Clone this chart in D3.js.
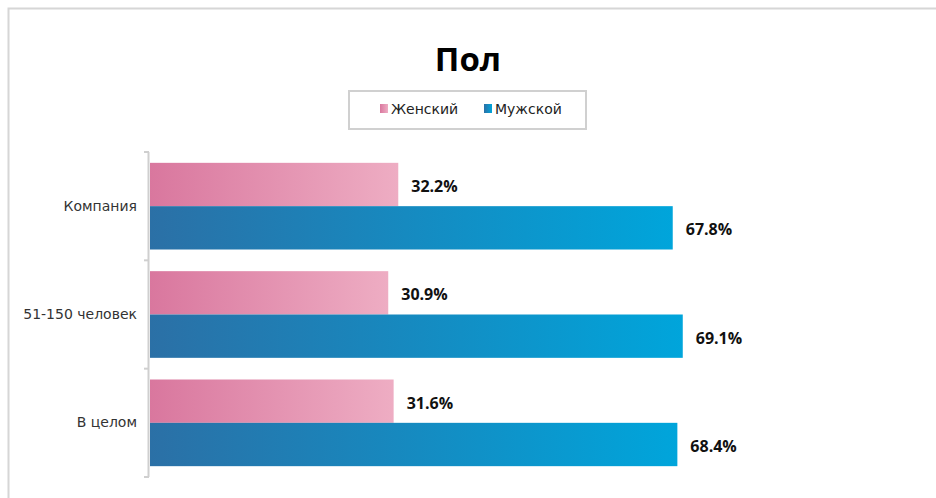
<!DOCTYPE html>
<html><head><meta charset="utf-8">
<script src="https://cdn.jsdelivr.net/npm/d3@7"></script>
<style>body{margin:0;background:#fff}svg{display:block}</style>
</head><body><svg id="c" width="936" height="498"></svg>
<script>
const title = "Пол";
const categories = ["Компания", "51-150 человек", "В целом"];
const seriesNames = ["Женский", "Мужской"];
const female = [32.2, 30.9, 31.6];
const male = [67.8, 69.1, 68.4];

const svg = d3.select("#c");
const font = "'DejaVu Sans', sans-serif";
const boldFont = "'Open Sans', 'DejaVu Sans', sans-serif";

// outer frame
svg.append("path").attr("d","M8.5,498 V8.5 H936").attr("fill","none").attr("stroke","#d6d6d6").attr("stroke-width",2);

const defs = svg.append("defs");
const grads = [["gF","#d9779e","#eeadc3"],["gM","#2b70a6","#00a5db"]];
grads.forEach(([id,a,b])=>{
  const g = defs.append("linearGradient").attr("id",id).attr("x1","0").attr("x2","1").attr("y1","0").attr("y2","0");
  g.append("stop").attr("offset","0").attr("stop-color",a);
  g.append("stop").attr("offset","1").attr("stop-color",b);
});

svg.append("text").attr("x",468).attr("y",71).attr("text-anchor","middle")
  .attr("font-family",boldFont).attr("font-weight","bold").attr("font-size",33).attr("fill","#000").text(title);

// legend
svg.append("rect").attr("x",349).attr("y",91).attr("width",237).attr("height",38)
  .attr("fill","#fff").attr("stroke","#d0d0d0").attr("stroke-width",2);
const legX = [380, 484];
seriesNames.forEach((n,i)=>{
  svg.append("rect").attr("x",legX[i]).attr("y",104).attr("width",8).attr("height",9).attr("fill",`url(#${grads[i][0]})`);
  svg.append("text").attr("x",legX[i]+11).attr("y",114).attr("font-family",font).attr("font-size",14).attr("fill","#222").text(n);
});

const x = d3.scaleLinear().domain([0,100]).range([150,921]);
const y0 = d3.scaleBand().domain(categories).range([152,477]).paddingInner(0.2).paddingOuter(0.1);
const y1 = d3.scaleBand().domain([0,1]).range([0,y0.bandwidth()]);
const yAxisScale = d3.scaleBand().domain(categories).range([152,477]);

// axis
const ax = svg.append("g").attr("transform","translate(149,0)")
  .call(d3.axisLeft(yAxisScale).tickSize(0).tickPadding(12));
ax.select(".domain").remove();
ax.selectAll("text").attr("font-family",font).attr("font-size",14).attr("fill","#333");
svg.append("line").attr("x1",148.5).attr("x2",148.5).attr("y1",152).attr("y2",477).attr("stroke","#cfcfcf").attr("stroke-width",2);
const bounds = [0,1,2,3].map(i=> i<3 ? yAxisScale(categories[i]) : yAxisScale.range()[1]);
bounds.forEach(b=>{
  svg.append("line").attr("x1",144).attr("x2",149).attr("y1",b).attr("y2",b).attr("stroke","#cfcfcf").attr("stroke-width",2);
});

const series = [female, male];
categories.forEach((c,ci)=>{
  series.forEach((s,si)=>{
    const yy = y0(c) + y1(si);
    svg.append("rect").attr("x",x(0)).attr("y",yy).attr("width",x(s[ci])-x(0)).attr("height",y1.bandwidth())
      .attr("fill",`url(#${grads[si][0]})`);
    svg.append("text").attr("x",x(s[ci])+13).attr("y",yy+y1.bandwidth()/2+7.5)
      .attr("font-family",boldFont).attr("font-weight","bold").attr("font-size",16).attr("fill","#111")
      .text(s[ci].toFixed(1)+"%");
  });
});
</script></body></html>
